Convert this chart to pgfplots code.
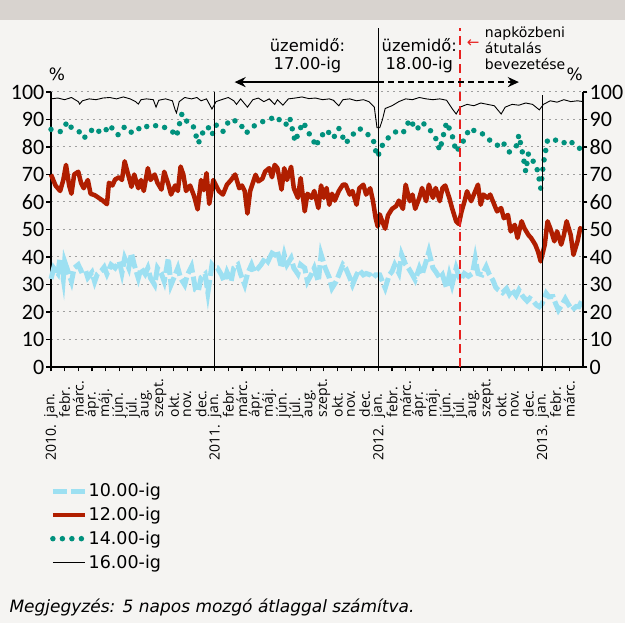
\documentclass[border=0pt]{standalone}
\usepackage{pgfplots}
\pgfplotsset{compat=1.18}
\usepackage{fontspec}
\setmainfont{DejaVu Sans}
\newfontfamily\tickfont{Carlito}
\newfontfamily\monthfont{Open Sans}
\usetikzlibrary{arrows.meta}
\definecolor{bg}{RGB}{245,244,242}
\definecolor{band}{RGB}{216,211,207}
\definecolor{cblue}{RGB}{157,224,242}
\definecolor{cred}{RGB}{176,30,0}
\definecolor{cteal}{RGB}{0,145,125}
\definecolor{cdash}{RGB}{232,32,30}
\tikzset{yearlab/.style={rotate=90, anchor=east, inner sep=0pt, font=\monthfont\fontsize{14}{14}\selectfont}}
\begin{document}
\begin{tikzpicture}
\fill[bg] (0pt,0pt) rectangle (625pt,623pt);
\fill[band] (0pt,603pt) rectangle (625pt,623pt);
\useasboundingbox (0pt,0pt) rectangle (625pt,623pt);
\begin{axis}[
  at={(51pt,256pt)}, anchor=south west,
  width=532pt, height=275pt, scale only axis,
  xmin=0, xmax=39, ymin=0, ymax=100,
  axis x line*=bottom, axis y line*=left,
  x axis line style={-, line width=2pt},
  y axis line style={-, line width=2.2pt},
  clip=false, no markers,
  tick align=outside, major tick length=4.5pt,
  tick style={black, line width=1.2pt},
  xtick={0,...,38},
  xticklabels={jan.,febr.,márc.,ápr.,máj.,jún.,júl.,aug.,szept.,okt.,nov.,dec.,
    jan.,febr.,márc.,ápr.,máj.,jún.,júl.,aug.,szept.,okt.,nov.,dec.,
    jan.,febr.,márc.,ápr.,máj.,jún.,júl.,aug.,szept.,okt.,nov.,dec.,
    jan.,febr.,márc.},
  xticklabel style={yshift=-46pt, rotate=90, anchor=west, inner sep=0pt, font=\monthfont\fontsize{14}{14}\selectfont},
  ytick={0,10,...,100},
  yticklabel style={font=\tickfont\fontsize{22}{22}\selectfont, inner sep=2pt},
  /pgf/number format/assume math mode=true,
  ymajorgrids,
  major grid style={gray!75, line width=1pt, dash pattern=on 2pt off 4pt},
  legend style={at={(-0.002,-0.42)}, anchor=north west, draw=none, fill=none,
    font=\fontsize{17.5}{17.5}\selectfont, row sep=7pt, inner sep=0pt,
    nodes={inner sep=1pt}},
  legend cell align=left,
  legend image code/.code={\draw[#1] (0pt,0pt) -- (32pt,0pt);},
]
\addplot[cblue, line width=5pt, dash pattern=on 14pt off 4pt] coordinates {
(0,32)(0.2,36)(0.5,34)(0.66,39.6)(0.9,32)(1.0,38.4)(1.3,34)(1.5,31.1)(1.7,36)(2.0,37.2)(2.2,35)(2.5,35.6)(2.7,32.5)(3.0,34.4)(3.2,31)(3.4,33.8)(3.7,35)(3.9,36.3)(4.1,33.8)(4.4,37.2)(4.7,36)(5.0,38.4)(5.2,34.2)(5.4,39.6)(5.7,36)(5.9,41.4)(6.1,37.2)(6.4,32.3)(6.6,36)(6.9,33.8)(7.1,36)(7.3,32.3)(7.6,29.9)(7.8,36)(8.1,33.8)(8.3,31.1)(8.6,39.6)(8.8,29.9)(9.1,33.5)(9.3,36)(9.5,32.3)(9.8,29.9)(10.0,33.5)(10.3,36.5)(10.6,28)(10.8,27.5)(11.0,32.5)(11.3,33.8)(11.5,27)(11.8,37.2)(12.0,36)(12.2,36)(12.5,33.5)(12.7,31.1)(12.9,34.5)(13.2,31.1)(13.4,36)(13.7,37.2)(13.9,33.8)(14.2,29.9)(14.4,33.8)(14.7,37.2)(14.9,34.5)(15.2,36)(15.4,37.2)(15.7,39.6)(15.9,38.4)(16.2,41.4)(16.4,40.8)(16.6,42)(16.9,36)(17.1,40.8)(17.3,37.2)(17.6,39.6)(17.8,36)(18.1,33.8)(18.3,37.2)(18.6,36)(18.8,31.1)(19.1,33.8)(19.3,36)(19.6,31.1)(19.8,40.9)(20.1,36)(20.4,32.5)(20.6,28.7)(20.9,31.1)(21.1,33.5)(21.4,37.2)(21.6,36)(21.9,32.5)(22.1,29.9)(22.4,33.5)(22.6,35.3)(22.9,33.5)(23.1,34)(23.4,33.5)(23.6,32.3)(23.8,33.5)(24.1,33.5)(24.3,31.1)(24.5,28.7)(24.8,33.5)(25.0,34.7)(25.2,37.2)(25.5,34.2)(25.7,40.9)(26.0,37.2)(26.2,36)(26.5,33.5)(26.7,31.7)(27.0,36)(27.2,33.5)(27.5,38.4)(27.7,42)(28.0,36)(28.2,34.7)(28.5,32.3)(28.7,33.5)(29.0,28.7)(29.2,33.5)(29.4,29.9)(29.7,36)(30.0,31.6)(30.3,34)(30.6,33)(30.9,34)(31.1,39.5)(31.3,34)(31.6,33.5)(31.9,36.5)(32.1,34)(32.4,31.5)(32.6,29)(32.8,28)(33.1,27)(33.4,28.5)(33.6,26.5)(33.8,28)(34.1,26)(34.3,28)(34.6,25.6)(34.9,24)(35.1,25)(35.3,24.3)(35.6,22.5)(35.8,21.9)(36.0,23)(36.3,26.8)(36.5,25.5)(36.8,25.6)(37.0,23)(37.2,20.7)(37.5,23)(37.7,24.8)(37.9,23)(38.2,20.7)(38.5,22)(38.7,21.9)(39.0,25)
};
\addlegendentry{10.00-ig}
\addplot[cred, line width=4.5pt, line join=round] coordinates {
(0,70)(0.33,66)(0.67,64)(0.9,68)(1.1,73.5)(1.33,66)(1.5,63)(1.7,70)(2.0,71)(2.2,67)(2.4,65)(2.7,68)(2.9,63)(3.2,62.5)(3.5,61.5)(3.8,60.5)(4.1,59.2)(4.25,67)(4.5,66)(4.7,68.2)(5.0,69)(5.2,68)(5.4,74.8)(5.6,71)(5.9,65.5)(6.1,70)(6.4,65)(6.6,68)(6.8,64)(7.1,72.3)(7.3,68)(7.6,70)(7.8,67)(8.1,64.5)(8.3,71)(8.6,66.5)(8.8,62.7)(9.1,66)(9.3,64)(9.5,72.9)(9.7,70)(9.9,64)(10.2,66)(10.5,62)(10.75,57.3)(11.0,68)(11.2,64.3)(11.4,70.5)(11.6,59.3)(11.9,68)(12.1,66)(12.3,64)(12.6,62.7)(12.9,66.3)(13.2,68)(13.5,70)(13.8,65)(14.0,66)(14.2,64)(14.4,55.8)(14.6,64)(15.0,69.9)(15.2,67.5)(15.5,68.5)(15.7,71.1)(16.0,72.3)(16.2,69)(16.4,73.5)(16.6,72.3)(16.9,64.5)(17.1,72.3)(17.3,68)(17.6,72.8)(17.8,65)(18.1,61.5)(18.3,68.7)(18.6,56.6)(18.8,63)(19.1,61.5)(19.3,64)(19.6,57.8)(19.8,66)(20.0,61.5)(20.2,65.1)(20.4,59)(20.6,63)(20.8,60.5)(21.1,64)(21.4,66.3)(21.6,66.3)(21.9,62.7)(22.1,64)(22.4,59)(22.6,65)(22.9,66.3)(23.1,62.7)(23.4,65)(23.6,60.5)(23.8,54.1)(23.95,51.1)(24.1,55.5)(24.3,52.7)(24.5,50.3)(24.7,55.1)(25.0,57.5)(25.3,58.5)(25.5,60.5)(25.8,57.5)(26.0,66.3)(26.3,60.3)(26.5,62.7)(26.7,57.5)(27.0,61.5)(27.2,65.1)(27.5,60.3)(27.7,66.3)(28.0,61.5)(28.2,65.1)(28.5,60.3)(28.7,65.1)(28.9,66)(29.2,61.5)(29.4,57.8)(29.7,53)(29.9,52)(30.1,56.6)(30.3,60)(30.5,63.9)(30.8,60.3)(31.0,62.7)(31.3,66.3)(31.5,59)(31.7,62.7)(32.0,61.5)(32.2,62.7)(32.5,59)(32.7,56.6)(33.0,57.8)(33.2,54.1)(33.5,55.3)(33.7,49.3)(34.0,51.7)(34.2,46.9)(34.5,53)(34.7,50.5)(35.0,48)(35.2,46.9)(35.5,44.5)(35.7,42)(35.9,38.4)(36.2,44.5)(36.4,53)(36.6,50.5)(36.9,45.7)(37.1,49.3)(37.4,44.5)(37.6,48)(37.8,53)(38.1,48)(38.3,40.8)(38.6,45.7)(38.8,50.5)(39.0,49.5)
};
\addlegendentry{12.00-ig}
\addplot[cteal, line width=5.5pt, line cap=round, dash pattern=on 0pt off 9.5pt] coordinates {
(0,86.4)(0.35,86)(0.7,85.6)(1.0,87.5)(1.2,89.2)(1.5,87)(1.9,86.2)(2.2,85)(2.4,83.2)(2.8,85)(3.1,86.8)(3.4,86.5)(3.6,85)(4.0,86)(4.3,88)(4.6,86)(4.9,84.4)(5.2,86)(5.4,87.4)(5.7,86)(6.0,85)(6.4,86.5)(6.8,88)(7.2,87)(7.5,87.4)(7.8,88)(8.2,87.4)(8.6,86.5)(8.9,85.6)(9.2,83.8)(9.4,88)(9.6,92.1)(10.0,89)(10.4,88)(10.8,81.3)(11.1,85)(11.5,87.4)(11.8,84.4)(12.1,88)(12.4,86.5)(12.6,85.6)(13.1,90)(13.5,89.5)(13.8,89)(14.3,85)(14.8,87.4)(15.2,88.5)(15.5,89.2)(16.0,90)(16.5,91.2)(16.9,89)(17.2,88)(17.5,90.7)(17.9,81.9)(18.2,86)(18.5,89)(18.9,85)(19.2,83)(19.4,80.1)(19.7,83.2)(20.2,86.2)(20.7,83.2)(21.1,86.8)(21.6,81.3)(22.1,84.4)(22.6,86.8)(23.1,85)(23.6,83.2)(23.9,76.4)(24.1,78)(24.3,80.7)(24.8,83.8)(25.3,85.6)(25.8,85)(26.3,90)(26.8,86.2)(27.2,89)(27.7,86.8)(28.2,83.2)(28.5,78.8)(28.8,85)(29.0,89)(29.4,84.4)(29.7,78.2)(30.2,81.9)(30.7,86.8)(31.0,86)(31.4,85.6)(31.9,83.8)(32.4,81.3)(32.8,80.5)(33.1,81.9)(33.6,78.2)(34.1,80.1)(34.3,84.4)(34.6,77)(34.8,71)(35.0,77.6)(35.3,75.2)(35.6,72.8)(35.8,68)(35.9,65)(36.1,74)(36.4,82.5)(36.7,82)(37.0,82.5)(37.5,81.3)(38.0,82.5)(38.5,80.1)(38.8,79.4)(39,80)
};
\addlegendentry{14.00-ig}
\addplot[black, line width=0.9pt] coordinates {
(0,97.5)(0.5,97.8)(1,97.2)(1.5,98)(2.0,96.5)(2.1,95.6)(2.3,96.8)(2.8,97.5)(3.3,97.2)(3.8,97.8)(4.3,98)(4.8,97.5)(5.3,98.2)(5.8,97.5)(6.2,96.5)(6.4,95.6)(6.6,97.2)(7.0,97.5)(7.5,97.2)(7.7,94.5)(7.9,97.0)(8.4,97.5)(8.9,96.8)(9.1,93.5)(9.2,92.4)(9.4,96.5)(9.8,98)(10.3,97.5)(10.7,98)(11.0,96.8)(11.4,97.5)(11.8,93.8)(12.1,96.5)(12.5,97.2)(13,98)(13.4,96.8)(13.6,95.5)(13.9,97.5)(14.4,94.5)(14.8,97.2)(15.2,97.8)(15.6,96.5)(16,97.5)(16.4,95.5)(16.6,97.2)(17,95.2)(17.4,97.5)(17.9,97.8)(18.4,98.2)(18.9,97.6)(19.4,97.8)(19.9,97.2)(20.4,97.5)(20.7,97.0)(21.1,95.0)(21.4,97.2)(21.9,97.5)(22.4,96.8)(22.9,97.2)(23.3,96.5)(23.7,94.5)(23.9,87)(24.1,87)(24.3,90)(24.5,94)(25,95)(25.5,96.5)(26,97.5)(26.5,97.2)(27,98)(27.5,97.5)(28,97.2)(28.5,97.5)(29,97)(29.4,94)(29.7,92)(30,94.5)(30.5,95.5)(31,95)(31.5,96)(32,95.5)(32.5,95)(33,92)(33.3,94.5)(33.8,95.5)(34.3,95.2)(34.8,96)(35.3,95.5)(35.8,93.5)(36.1,95.5)(36.6,96.8)(37.1,96.3)(37.6,97.2)(38.1,96.5)(38.6,96.8)(39,96.5)
};
\addlegendentry{16.00-ig}
\draw[black, line width=1pt] (axis cs:12,0) -- (axis cs:12,100);
\draw[black, line width=1pt] (axis cs:24,0) -- (axis cs:24,123.3);
\draw[black, line width=1pt] (axis cs:36,0) -- (axis cs:36,99);
\draw[cdash, line width=2.2pt, dash pattern=on 9pt off 5pt] (axis cs:30,0) -- (axis cs:30,123.3);
\draw[line width=2pt, -{Stealth[length=11pt,width=10pt]}] (axis cs:24,103.6) -- (axis cs:13.46,103.6);
\draw[line width=2pt, dash pattern=on 6pt off 4pt, -{Stealth[length=11pt,width=10pt]}] (axis cs:24,103.6) -- (axis cs:34.3,103.6);
\node[align=center, font=\fontsize{16.3}{18}\selectfont] at (axis cs:18.8,113.1) {üzemidő:\\17.00-ig};
\node[align=center, font=\fontsize{16.3}{18}\selectfont] at (axis cs:27.0,113.1) {üzemidő:\\18.00-ig};
\node[anchor=west, align=left, inner sep=0pt, font=\fontsize{14}{16}\selectfont] at (axis cs:31.8,116) {napközbeni\\átutalás\\bevezetése};
\node[cdash, font=\fontsize{15}{15}\selectfont] at (axis cs:30.95,117.5) {←};
\node[font=\fontsize{17}{17}\selectfont] at (axis cs:0.44,106.5) {\%};
\node[font=\fontsize{17}{17}\selectfont] at (axis cs:38.4,106.5) {\%};
\node[yearlab] at ([yshift=-58pt]axis cs:0,0) {2010.};
\node[yearlab] at ([yshift=-58pt]axis cs:12,0) {2011.};
\node[yearlab] at ([yshift=-58pt]axis cs:24,0) {2012.};
\node[yearlab] at ([yshift=-58pt]axis cs:36,0) {2013.};
\end{axis}
\begin{axis}[
  at={(51pt,256pt)}, anchor=south west,
  width=532pt, height=275pt, scale only axis,
  xmin=0, xmax=39, ymin=0, ymax=100,
  axis y line*=right, axis x line=none, xtick=\empty,
  y axis line style={-, line width=2.2pt},
  tick align=outside, major tick length=4.5pt,
  tick style={black, line width=1.2pt},
  ytick={0,10,...,100},
  yticklabel style={font=\tickfont\fontsize{22}{22}\selectfont, inner sep=2pt},
  /pgf/number format/assume math mode=true,
]
\addplot[draw=none] coordinates {(0,0)};
\end{axis}
\node[anchor=west, font=\itshape\fontsize{17}{17}\selectfont] at (6pt,16pt) {Megjegyzés: 5 napos mozgó átlaggal számítva.};
\end{tikzpicture}
\end{document}
